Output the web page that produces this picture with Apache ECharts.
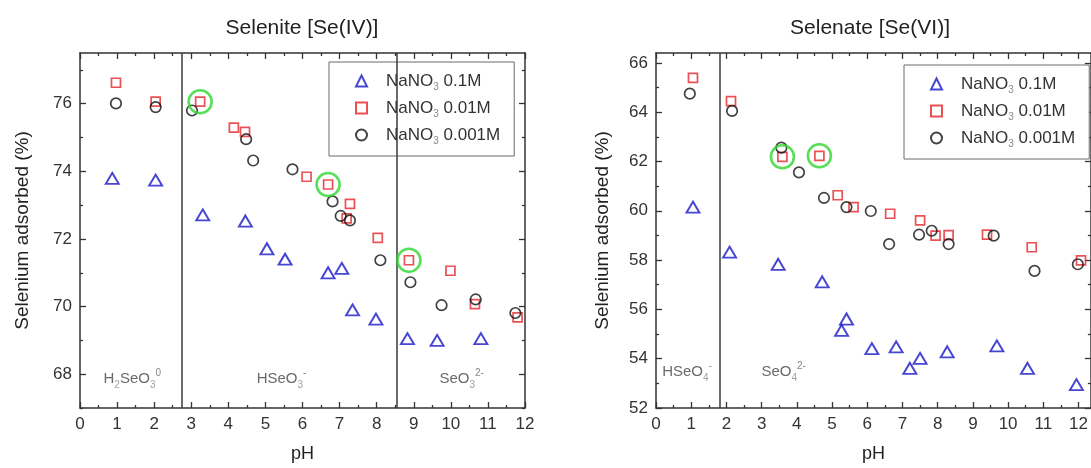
<!DOCTYPE html>
<html>
<head>
<meta charset="utf-8">
<script src="https://cdn.jsdelivr.net/npm/echarts@6/dist/echarts.min.js"></script>
<style>
  html, body { margin: 0; padding: 0; background: #fff; }
  #chart { width: 1091px; height: 468px; }
</style>
</head>
<body>
<div id="chart"></div>
<script>
// ---- Selenite [Se(IV)] : adsorption (%) vs pH ----
const seIV_pH_01   = [0.87, 2.04, 3.31, 4.46, 5.04, 5.53, 6.69, 7.06, 7.35, 7.98, 8.83, 9.63, 10.81];
const seIV_ads_01  = [73.79, 73.74, 72.71, 72.53, 71.71, 71.40, 71.00, 71.13, 69.90, 69.63, 69.05, 69.00, 69.05];
const seIV_pH_001  = [0.97, 2.04, 3.24, 4.15, 4.45, 6.11, 6.69, 7.19, 7.28, 8.03, 8.87, 9.99, 10.65, 11.80];
const seIV_ads_001 = [76.62, 76.06, 76.06, 75.29, 75.17, 73.84, 73.61, 72.61, 73.04, 72.03, 71.37, 71.06, 70.07, 69.68];
const seIV_pH_0001  = [0.97, 2.04, 3.02, 4.48, 4.67, 5.73, 6.81, 7.03, 7.28, 8.10, 8.91, 9.75, 10.67, 11.74];
const seIV_ads_0001 = [76.01, 75.90, 75.80, 74.95, 74.32, 74.06, 73.11, 72.68, 72.55, 71.37, 70.72, 70.04, 70.21, 69.81];
const seIV_mark_pH  = [3.24, 6.69, 8.87];
const seIV_mark_ads = [76.06, 73.61, 71.37];
const seIV_pKa      = [2.75, 8.55];
const seIV_species     = ['H{sub|2}SeO{sub|3}{sup|0}', 'HSeO{sub|3}{sup|-}', 'SeO{sub|3}{sup|2-}'];
const seIV_species_pH  = [0.62, 4.75, 9.68];
const seIV_species_ads = [67.85, 67.85, 67.85];

// ---- Selenate [Se(VI)] : adsorption (%) vs pH ----
const seVI_pH_01   = [1.05, 2.09, 3.47, 4.72, 5.27, 5.41, 6.13, 6.82, 7.21, 7.50, 8.27, 9.68, 10.55, 11.94];
const seVI_ads_01  = [60.15, 58.32, 57.83, 57.12, 55.15, 55.61, 54.41, 54.48, 53.61, 54.01, 54.28, 54.52, 53.61, 52.95];
const seVI_pH_001  = [1.05, 2.13, 3.59, 4.64, 5.16, 5.61, 6.65, 7.50, 7.94, 8.31, 9.40, 10.67, 12.07];
const seVI_ads_001 = [65.39, 64.45, 62.19, 62.23, 60.63, 60.15, 59.88, 59.61, 58.99, 59.01, 59.03, 58.52, 57.99];
const seVI_pH_0001  = [0.96, 2.16, 3.56, 4.06, 4.77, 5.41, 6.10, 6.62, 7.47, 7.83, 8.31, 9.59, 10.75, 11.98];
const seVI_ads_0001 = [64.75, 64.05, 62.56, 61.56, 60.52, 60.15, 59.99, 58.65, 59.03, 59.19, 58.65, 58.99, 57.56, 57.83];
const seVI_mark_pH  = [3.59, 4.64];
const seVI_mark_ads = [62.19, 62.23];
const seVI_pKa      = [1.81];
const seVI_species     = ['HSeO{sub|4}{sup|-}', 'SeO{sub|4}{sup|2-}'];
const seVI_species_pH  = [0.16, 2.98];
const seVI_species_ads = [53.45, 53.45];

// ---- legend and axis text ----
const seriesNames = ['NaNO3 0.1M', 'NaNO3 0.01M', 'NaNO3 0.001M'];
const legendText  = ['NaNO{sub|3} 0.1M', 'NaNO{sub|3} 0.01M', 'NaNO{sub|3} 0.001M'];
const titles = ['Selenite [Se(IV)]', 'Selenate [Se(VI)]'];
const xName = 'pH';
const yName = 'Selenium adsorbed (%)';
const xTicksMajor = [0, 1, 2, 3, 4, 5, 6, 7, 8, 9, 10, 11, 12];
const xTicksMinor = [0.5, 1.5, 2.5, 3.5, 4.5, 5.5, 6.5, 7.5, 8.5, 9.5, 10.5, 11.5];
const yIVMajor = [68, 70, 72, 74, 76];
const yIVMinor = [67, 69, 71, 73, 75, 77];
const yVIMajor = [52, 54, 56, 58, 60, 62, 64, 66];
const yVIMinor = [53, 55, 57, 59, 61, 63, 65];

const FONT = '"Liberation Sans", Arial, Helvetica, sans-serif';
const AXIS = '#333333';
const BLUE = '#1818c8';
const RED = '#e3262b';
const BLACK = '#121212';
const GREEN = '#2fd62f';

const zip = (xs, ys) => xs.map((x, i) => [x, ys[i]]);

const subRich = {
  sub: { fontSize: 10, lineHeight: 10, verticalAlign: 'bottom', color: '#888', fontFamily: FONT },
  sup: { fontSize: 10, lineHeight: 10, verticalAlign: 'top', color: '#666', fontFamily: FONT }
};

function axis(gridIndex, position, min, max, ticks, tickLen, labels, showLine, extra) {
  const a = {
    type: 'value', gridIndex, position, min, max,
    splitLine: { show: false },
    axisLine: { show: showLine, onZero: false, lineStyle: { color: AXIS, width: 1.5 } },
    axisTick: { show: true, inside: true, length: tickLen, customValues: ticks,
                lineStyle: { color: AXIS, width: 1.3 } },
    axisLabel: labels
      ? { show: true, customValues: labels, color: '#333', fontSize: 17, fontFamily: FONT, margin: 8 }
      : { show: false },
    axisPointer: { show: false }
  };
  return Object.assign(a, extra || {});
}

const xNameOpt = { name: xName, nameLocation: 'middle', nameGap: 37,
  nameTextStyle: { fontSize: 18, color: '#222', fontFamily: FONT } };
const yNameOpt = (gap) => ({ name: yName, nameLocation: 'middle', nameGap: gap,
  nameTextStyle: { fontSize: 19, color: '#222', fontFamily: FONT } });

const xAxes = [
  // Se(IV) panel: bottom and top frame, major then minor ticks
  axis(0, 'bottom', 0, 12, xTicksMajor, 6, xTicksMajor, true, xNameOpt),
  axis(0, 'top', 0, 12, xTicksMajor, 6, null, true),
  axis(0, 'bottom', 0, 12, xTicksMinor, 3, null, false),
  axis(0, 'top', 0, 12, xTicksMinor, 3, null, false),
  // Se(VI) panel
  axis(1, 'bottom', 0, 12.35, xTicksMajor, 6, xTicksMajor, true, xNameOpt),
  axis(1, 'top', 0, 12.35, xTicksMajor, 6, null, true),
  axis(1, 'bottom', 0, 12.35, xTicksMinor, 3, null, false),
  axis(1, 'top', 0, 12.35, xTicksMinor, 3, null, false)
];
const yAxes = [
  axis(0, 'left', 67, 77.5, yIVMajor, 6, yIVMajor, true, yNameOpt(48)),
  axis(0, 'right', 67, 77.5, yIVMajor, 6, null, true),
  axis(0, 'left', 67, 77.5, yIVMinor, 3, null, false),
  axis(0, 'right', 67, 77.5, yIVMinor, 3, null, false),
  axis(1, 'left', 52, 66.4, yVIMajor, 6, yVIMajor, true, yNameOpt(44)),
  axis(1, 'right', 52, 66.4, yVIMajor, 6, null, true),
  axis(1, 'left', 52, 66.4, yVIMinor, 3, null, false),
  axis(1, 'right', 52, 66.4, yVIMinor, 3, null, false)
];

const styles = [
  { symbol: 'triangle', symbolSize: [13, 11], color: BLUE, width: 1.9 },
  { symbol: 'rect', symbolSize: 9, color: RED, width: 1.7 },
  { symbol: 'circle', symbolSize: 10.5, color: BLACK, width: 1.7 }
];

function dataSeries(xi, yi, sets) {
  return sets.map((d, i) => ({
    type: 'scatter', name: seriesNames[i], xAxisIndex: xi, yAxisIndex: yi,
    symbol: styles[i].symbol, symbolSize: styles[i].symbolSize,
    itemStyle: { color: 'rgba(255,255,255,0)', borderColor: styles[i].color, borderWidth: styles[i].width },
    emphasis: { disabled: true },
    z: 3 + i,
    data: d
  }));
}

function highlightSeries(xi, yi, pts) {
  return {
    type: 'scatter', name: 'marked', xAxisIndex: xi, yAxisIndex: yi,
    symbol: 'circle', symbolSize: 23,
    itemStyle: { color: 'rgba(255,255,255,0)', borderColor: GREEN, borderWidth: 2.6 },
    emphasis: { disabled: true }, z: 8, data: pts
  };
}

// speciation-zone labels and the pKa boundaries between them
function speciesSeries(xi, yi, names, xs, ys, pKa) {
  return {
    type: 'scatter', name: 'species', xAxisIndex: xi, yAxisIndex: yi,
    symbolSize: 1, itemStyle: { color: 'rgba(255,255,255,0)' },
    emphasis: { disabled: true }, silent: true, z: 2,
    label: {
      show: true, position: 'right', distance: 0,
      formatter: (p) => p.data.txt,
      fontSize: 15, lineHeight: 22, color: '#444', fontFamily: FONT,
      rich: subRich
    },
    data: names.map((t, i) => ({ value: [xs[i], ys[i]], txt: t })),
    markLine: {
      silent: true, symbol: 'none', animation: false,
      label: { show: false },
      lineStyle: { color: '#3a3a3a', width: 1.5, type: 'solid' },
      emphasis: { disabled: true },
      data: pKa.map(v => ({ xAxis: v }))
    }
  };
}

const legendBase = {
  orient: 'vertical', data: seriesNames,
  itemWidth: 11, itemHeight: 11, itemGap: 5,
  borderColor: '#6a6a6a', borderWidth: 1, backgroundColor: '#fff',
  selectedMode: false,
  formatter: (name) => legendText[seriesNames.indexOf(name)],
  textStyle: { fontSize: 17, color: '#333', fontFamily: FONT, lineHeight: 22,
               padding: [0, 0, 0, 14], rich: subRich }
};

const option = {
  animation: false,
  backgroundColor: '#fff',
  grid: [
    { left: 80, top: 53, width: 445, height: 360 },
    { left: 656, top: 53, width: 437.8, height: 360 }
  ],
  xAxis: xAxes,
  yAxis: yAxes,
  legend: [
    Object.assign({}, legendBase, { left: 329, top: 62, padding: [8, 14, 10, 26] }),
    Object.assign({}, legendBase, { left: 904, top: 65, padding: [8, 14, 10, 26] })
  ],
  graphic: [
    { type: 'text', x: 302, y: 28, style: { text: titles[0], font: '21px ' + FONT, fill: '#222', align: 'center', verticalAlign: 'middle' } },
    { type: 'text', x: 870, y: 28, style: { text: titles[1], font: '21px ' + FONT, fill: '#222', align: 'center', verticalAlign: 'middle' } }
  ],
  series: [
    speciesSeries(0, 0, seIV_species, seIV_species_pH, seIV_species_ads, seIV_pKa),
    ...dataSeries(0, 0, [zip(seIV_pH_01, seIV_ads_01), zip(seIV_pH_001, seIV_ads_001), zip(seIV_pH_0001, seIV_ads_0001)]),
    highlightSeries(0, 0, zip(seIV_mark_pH, seIV_mark_ads)),
    speciesSeries(4, 4, seVI_species, seVI_species_pH, seVI_species_ads, seVI_pKa),
    ...dataSeries(4, 4, [zip(seVI_pH_01, seVI_ads_01), zip(seVI_pH_001, seVI_ads_001), zip(seVI_pH_0001, seVI_ads_0001)]),
    highlightSeries(4, 4, zip(seVI_mark_pH, seVI_mark_ads))
  ]
};

const chart = echarts.init(document.getElementById('chart'), null, { renderer: 'canvas' });
chart.setOption(option);
</script>
</body>
</html>
